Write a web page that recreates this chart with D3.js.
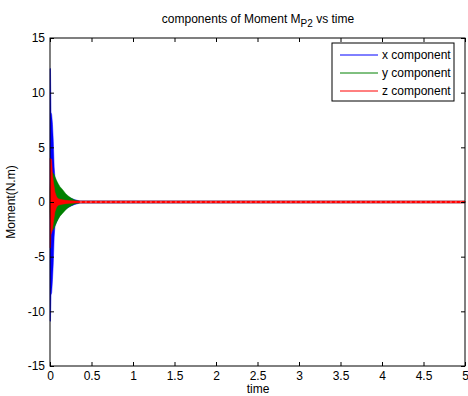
<!DOCTYPE html>
<html><head><meta charset="utf-8">
<script src="https://cdn.jsdelivr.net/npm/d3@7"></script>
<style>body{margin:0;background:#fff}svg{display:block}text{font-family:"Liberation Sans",Arial,sans-serif;fill:#000}</style>
</head><body><svg id="c" width="468" height="396"></svg>
<script>
// envelope sample times (s)
const times  = [0, 0.006, 0.012, 0.02, 0.03, 0.04, 0.05, 0.06, 0.08, 0.1, 0.12, 0.15, 0.19, 0.22, 0.25, 0.3, 0.36, 5];
const xUpper = [12.2, 12.2, 8.2, 8.0, 7.1, 5.5, 3.2, 2.2, 1.8, 1.5, 1.2, 0.9, 0.6, 0.45, 0.35, 0.2, 0.1, 0.07];
const xLower = [-10.9, -10.9, -8.5, -8.3, -7.1, -5.5, -3.2, -2.2, -1.8, -1.5, -1.2, -0.95, -0.65, -0.5, -0.38, -0.22, -0.1, -0.07];
const yUpper = [0.8, 1.8, 2.5, 2.7, 2.7, 2.6, 2.5, 2.3, 1.95, 1.65, 1.4, 1.15, 0.75, 0.55, 0.38, 0.17, 0.08, 0.07];
const yLower = [-0.8, -1.7, -2.4, -2.6, -2.6, -2.5, -2.4, -2.2, -1.85, -1.55, -1.3, -1.05, -0.7, -0.5, -0.36, -0.16, -0.08, -0.07];
const zUpper = [4.0, 4.0, 3.9, 3.9, 2.5, 1.9, 1.4, 0.9, 0.45, 0.3, 0.25, 0.2, 0.15, 0.13, 0.12, 0.1, 0.09, 0.09];
const zLower = [-4.2, -4.2, -3.0, -2.8, -2.5, -1.9, -1.4, -0.9, -0.45, -0.3, -0.25, -0.2, -0.15, -0.13, -0.12, -0.1, -0.09, -0.09];
const seriesNames = ["x component", "y component", "z component"];
const seriesColors = ["#0000ff", "#008000", "#ff0000"];
const xTicks = [0, 0.5, 1, 1.5, 2, 2.5, 3, 3.5, 4, 4.5, 5];
const yTicks = [-15, -10, -5, 0, 5, 10, 15];

const svg = d3.select("#c");
const L = 50, R = 465, T = 38, B = 366;
const FONT = "Liberation Sans, Arial, sans-serif";
const x = d3.scaleLinear().domain([0, 5]).range([L, R]);
const y = d3.scaleLinear().domain([-15, 15]).range([B, T]);

const series = [[xUpper, xLower], [yUpper, yLower], [zUpper, zLower]];
series.forEach(([up, lo], i) => {
  const area = d3.area().x((d, j) => x(times[j])).y0((d, j) => y(lo[j])).y1((d, j) => y(up[j]));
  svg.append("path").datum(up).attr("d", area).attr("fill", seriesColors[i]).attr("stroke", seriesColors[i]).attr("stroke-width", 0.5);
});
// tail texture: dashed pink over the mixed colours
svg.append("line").attr("x1", x(0.36)).attr("x2", x(5)).attr("y1", y(0)).attr("y2", y(0))
  .attr("stroke", "#ff8080").attr("stroke-width", 1).attr("stroke-dasharray", "2,3");

// axes
svg.append("rect").attr("x", L).attr("y", T).attr("width", R - L).attr("height", B - T)
  .attr("fill", "none").attr("stroke", "#000").attr("stroke-width", 1);
const fmt = d => String(d);
const ax = d3.axisBottom(x).tickValues(xTicks).tickSize(-4).tickPadding(5).tickFormat(fmt);
const axT = d3.axisTop(x).tickValues(xTicks).tickSize(-4).tickFormat("");
const ay = d3.axisLeft(y).tickValues(yTicks).tickSize(-4).tickPadding(5).tickFormat(fmt);
const ayR = d3.axisRight(y).tickValues(yTicks).tickSize(-4).tickFormat("");
[[ax, `translate(0,${B})`], [axT, `translate(0,${T})`], [ay, `translate(${L},0)`], [ayR, `translate(${R},0)`]].forEach(([a, tr]) => {
  const gg = svg.append("g").attr("transform", tr).call(a);
  gg.select(".domain").remove();
  gg.selectAll("line").attr("stroke", "#000");
  gg.selectAll("text").attr("font-size", 12).attr("font-family", FONT).attr("fill", "#000");
});

// title
const title = svg.append("text").attr("x", 258).attr("y", 23).attr("text-anchor", "middle").attr("font-size", 12);
title.append("tspan").text("components of Moment M");
title.append("tspan").attr("dy", 4).attr("font-size", 10).text("P2");
title.append("tspan").attr("dy", -4).text(" vs time");

svg.append("text").attr("x", 258).attr("y", 393).attr("text-anchor", "middle").attr("font-size", 12).text("time");
svg.append("text").attr("transform", "translate(15,202) rotate(-90)").attr("text-anchor", "middle").attr("font-size", 12).text("Moment(N.m)");

// legend
const lg = svg.append("g");
lg.append("rect").attr("x", 332).attr("y", 43).attr("width", 122).attr("height", 58)
  .attr("fill", "#fff").attr("stroke", "#000").attr("stroke-width", 1);
const rowY = [55, 73, 91];
seriesNames.forEach((n, i) => {
  lg.append("line").attr("x1", 340).attr("x2", 378).attr("y1", rowY[i]).attr("y2", rowY[i]).attr("stroke", seriesColors[i]).attr("stroke-width", 1);
  lg.append("text").attr("x", 382).attr("y", rowY[i] + 4).attr("font-size", 12).text(n);
});
</script></body></html>
